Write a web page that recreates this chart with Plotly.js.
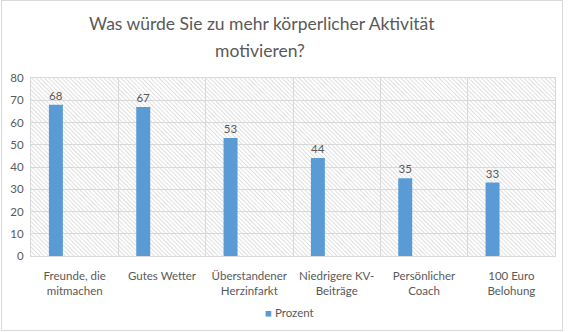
<!DOCTYPE html>
<html>
<head>
<meta charset="utf-8">
<script src="https://cdn.plot.ly/plotly-3.0.1.min.js"></script>
<style>
html,body{margin:0;padding:0;background:#fff;}
#wrap{position:relative;width:570px;height:332px;}
#chart{width:570px;height:332px;}
#frame{position:absolute;left:1px;top:0;width:562px;height:331px;box-sizing:border-box;border:1px solid #d9d9d9;pointer-events:none;}
</style>
</head>
<body>
<div id="wrap"><div id="chart"></div><div id="frame"></div></div>
<script>
// Data
const categories = ["Freunde, die mitmachen", "Gutes Wetter", "Überstandener Herzinfarkt", "Niedrigere KV-Beiträge", "Persönlicher Coach", "100 Euro Belohung"];
const tickLabels = ["Freunde, die<br>mitmachen", "Gutes Wetter", "Überstandener<br>Herzinfarkt", "Niedrigere KV-<br>Beiträge", "Persönlicher<br>Coach", "100 Euro<br>Belohung"];
const prozent = [68, 67, 53, 44, 35, 33];
const seriesName = "Prozent";
const titleLines = ["Was würde Sie zu mehr körperlicher Aktivität", "motivieren?"];

const grey = "#595959";
const blue = "#5B9BD5";
const font = "Lato, 'Open Sans', sans-serif";

const hatchSvg = "<svg xmlns='http://www.w3.org/2000/svg' width='524' height='178'>" +
  "<defs><pattern id='p' width='3' height='3' patternUnits='userSpaceOnUse' patternTransform='rotate(-45)'>" +
  "<line x1='0.5' y1='0' x2='0.5' y2='3' stroke='#dcdcdc' stroke-width='0.9'/></pattern></defs>" +
  "<rect width='100%' height='100%' fill='#ffffff'/><rect width='100%' height='100%' fill='url(#p)'/></svg>";
const hatchUri = "data:image/svg+xml;charset=utf-8," + encodeURIComponent(hatchSvg);

const trace = {
  type: "bar",
  x: categories,
  y: prozent,
  name: seriesName,
  width: 0.16,
  offset: -0.295,
  marker: {color: blue},
  text: prozent.map(String),
  textposition: "outside",
  cliponaxis: false,
  textfont: {family: font, size: 11.5, color: grey},
  hoverinfo: "skip",
  showlegend: false
};

// plot area: x 31..555, y 78..256 (pixels)
const pyToPaper = py => (256 - py) / 178;
const pxToPaper = px => (px - 31) / 524;

const layout = {
  width: 570, height: 332,
  margin: {l: 31, r: 15, t: 78, b: 76, pad: 0},
  paper_bgcolor: "rgba(0,0,0,0)",
  plot_bgcolor: "rgba(0,0,0,0)",
  font: {family: font, color: grey},
  xaxis: {
    type: "category",
    tickmode: "array",
    tickvals: categories,
    ticktext: tickLabels,
    tickson: "boundaries",
    ticks: "",
    ticklabelstandoff: 9,
    showgrid: true,
    gridcolor: "#d9d9d9",
    showline: true, linecolor: "#d9d9d9", mirror: true,
    tickfont: {family: font, size: 11.5, color: grey},
    range: [-0.5, 5.5],
    fixedrange: true
  },
  yaxis: {
    range: [0, 80],
    dtick: 10,
    tick0: 0,
    showgrid: true,
    gridcolor: "#d9d9d9",
    zeroline: false,
    showline: true, linecolor: "#d9d9d9", mirror: true,
    ticks: "",
    ticklabelstandoff: 4,
    tickfont: {family: font, size: 11.5, color: grey},
    fixedrange: true
  },
  images: [{
    source: hatchUri,
    xref: "paper", yref: "paper",
    x: 0, y: 1, sizex: 1, sizey: 1,
    xanchor: "left", yanchor: "top",
    sizing: "stretch", layer: "below"
  }],
  annotations: [
    {text: titleLines[0], xref: "paper", yref: "paper", x: pxToPaper(262), y: pyToPaper(24),
     xanchor: "center", yanchor: "middle", showarrow: false,
     font: {family: font, size: 17.5, color: grey}},
    {text: titleLines[1], xref: "paper", yref: "paper", x: pxToPaper(260), y: pyToPaper(51),
     xanchor: "center", yanchor: "middle", showarrow: false,
     font: {family: font, size: 17.5, color: grey}},
    {text: "<span style='color:" + blue + "'>■</span> " + seriesName, xref: "paper", yref: "paper",
     x: pxToPaper(263), y: pyToPaper(312), xanchor: "left", yanchor: "middle", showarrow: false,
     font: {family: font, size: 11.5, color: grey}}
  ],
  showlegend: false
};

Plotly.newPlot("chart", [trace], layout, {staticPlot: true, displayModeBar: false});
</script>
</body>
</html>
